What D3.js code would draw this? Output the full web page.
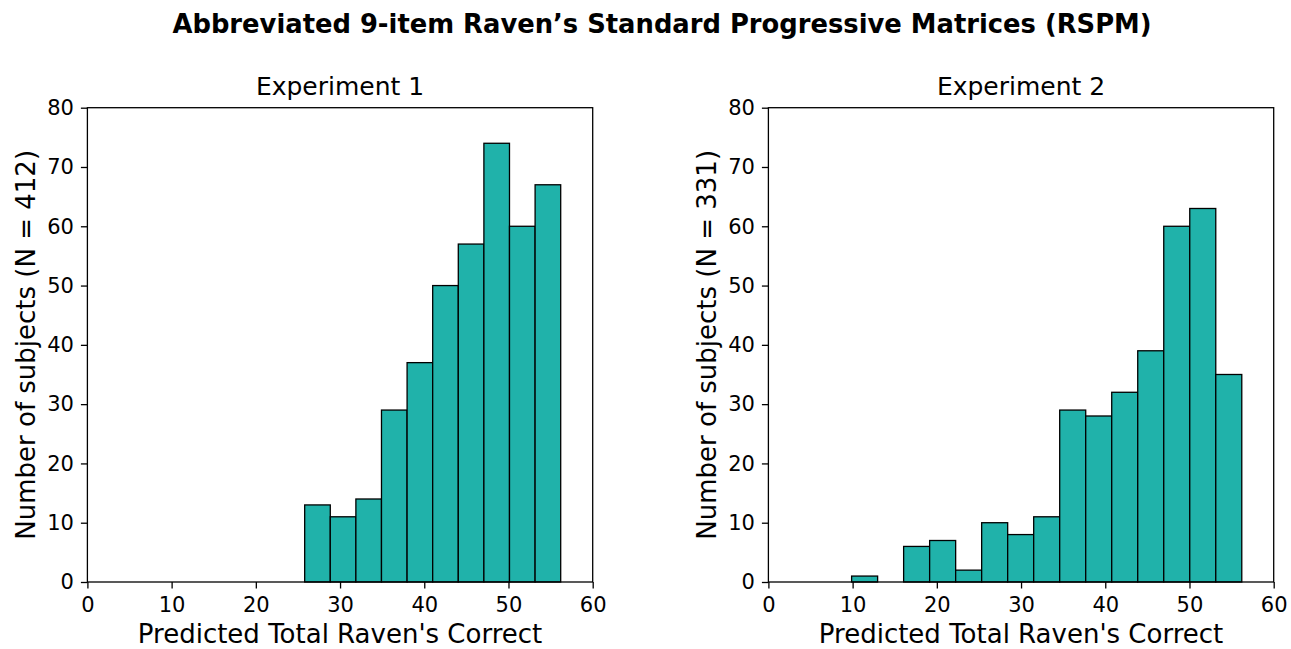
<!DOCTYPE html>
<html>
<head>
<meta charset="utf-8">
<script src="https://cdn.jsdelivr.net/npm/d3@7"></script>
<style>
  html, body { margin: 0; padding: 0; background: #fff; }
  svg { display: block; font-family: "DejaVu Sans", sans-serif; }
</style>
</head>
<body>
<svg id="chart" width="1291" height="649"></svg>
<script>
// Histogram counts per bin and the score range each histogram spans
const exp1Counts = [13, 11, 14, 29, 37, 50, 57, 74, 60, 67];
const exp1Range = [25.8, 56.2];
const exp2Counts = [1, 0, 6, 7, 2, 10, 8, 11, 29, 28, 32, 39, 60, 63, 35];
const exp2Range = [9.88, 56.21];

const panelTitles = ["Experiment 1", "Experiment 2"];
const yLabels = ["Number of subjects (N = 412)", "Number of subjects (N = 331)"];
const xLabel = "Predicted Total Raven's Correct";
const xTicks = [0, 10, 20, 30, 40, 50, 60];
const yTicks = [0, 10, 20, 30, 40, 50, 60, 70, 80];
const suptitle = "Abbreviated 9-item Raven\u2019s Standard Progressive Matrices (RSPM)";

const svg = d3.select("#chart");

svg.append("text")
  .attr("x", 662).attr("y", 33)
  .attr("text-anchor", "middle")
  .attr("font-weight", "bold")
  .attr("font-size", 25.8)
  .attr("fill", "#000")
  .text(suptitle);

const panels = [
  { counts: exp1Counts, range: exp1Range, left: 87.4 },
  { counts: exp2Counts, range: exp2Range, left: 768.4 }
];
const plotW = 505.3, plotTop = 107.7, plotBottom = 582;

panels.forEach((p, i) => {
  const g = svg.append("g");
  const x = d3.scaleLinear().domain([0, 60]).range([p.left, p.left + plotW]);
  const y = d3.scaleLinear().domain([0, 80]).range([plotBottom, plotTop]);

  // bin edges split the data range evenly
  const n = p.counts.length;
  const step = (p.range[1] - p.range[0]) / n;
  const bins = p.counts.map((c, k) => ({
    x0: p.range[0] + k * step,
    x1: p.range[0] + (k + 1) * step,
    count: c
  }));

  g.selectAll("rect.bar").data(bins).enter().append("rect")
    .attr("class", "bar")
    .attr("x", d => x(d.x0))
    .attr("width", d => x(d.x1) - x(d.x0))
    .attr("y", d => y(d.count))
    .attr("height", d => y(0) - y(d.count))
    .attr("fill", "#20b2aa")
    .attr("stroke", "#000")
    .attr("stroke-width", 1.3);

  // axes
  const xAxis = d3.axisBottom(x).tickValues(xTicks).tickSize(6.5).tickPadding(8.5).tickFormat(d3.format("d"));
  const yAxis = d3.axisLeft(y).tickValues(yTicks).tickSize(6.5).tickPadding(7).tickFormat(d3.format("d"));

  const gx = g.append("g").attr("transform", `translate(0,${plotBottom})`).call(xAxis);
  const gy = g.append("g").attr("transform", `translate(${p.left},0)`).call(yAxis);
  [gx, gy].forEach(a => {
    a.select(".domain").remove();
    a.selectAll("line").attr("stroke", "#000").attr("stroke-width", 1.3);
    a.selectAll("text").attr("font-size", 21).attr("fill", "#000")
      .attr("font-family", "DejaVu Sans, sans-serif");
  });

  // frame
  g.append("rect")
    .attr("x", p.left).attr("y", plotTop)
    .attr("width", plotW).attr("height", plotBottom - plotTop)
    .attr("fill", "none").attr("stroke", "#000").attr("stroke-width", 1.3);

  g.append("text")
    .attr("x", p.left + plotW / 2).attr("y", 95)
    .attr("text-anchor", "middle").attr("font-size", 25).attr("fill", "#000")
    .text(panelTitles[i]);

  g.append("text")
    .attr("x", p.left + plotW / 2).attr("y", 643)
    .attr("text-anchor", "middle").attr("font-size", 26).attr("fill", "#000")
    .text(xLabel);

  g.append("text")
    .attr("transform", `translate(${p.left - 52.5},${(plotTop + plotBottom) / 2}) rotate(-90)`)
    .attr("text-anchor", "middle").attr("font-size", 26).attr("fill", "#000")
    .text(yLabels[i]);
});
</script>
</body>
</html>
